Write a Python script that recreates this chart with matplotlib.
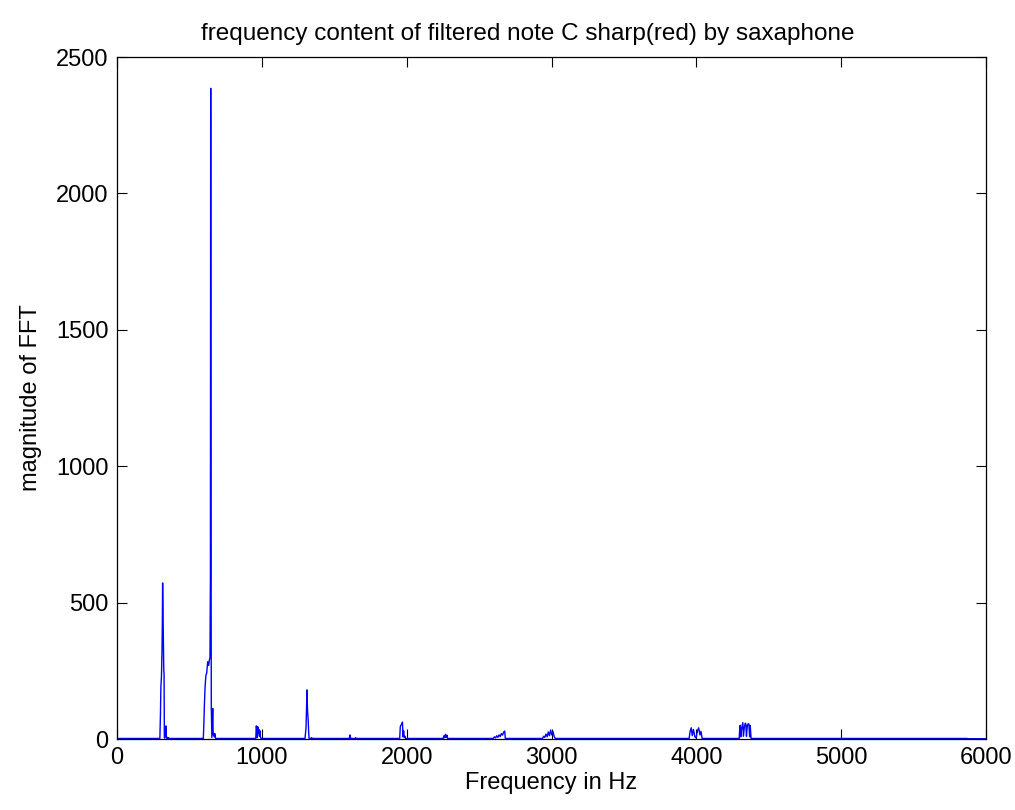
import numpy as np
import matplotlib.pyplot as plt

plt.rcParams["font.family"] = ["Liberation Sans", "DejaVu Sans"]

# spectrum of the filtered note, (Hz, |FFT|) breakpoints
freq_hz = [
    0, 296, 300, 303, 307, 311, 313, 315, 318, 321, 323, 325, 327, 330, 333, 336, 338, 341, 344, 350, 352, 355, 360,
    596, 600, 603, 608, 614, 619, 626, 633, 638, 642, 645, 647, 649, 651, 655, 658, 661, 664, 668, 672, 675, 680, 686,
    958, 962, 965, 968, 972, 976, 980, 983, 987, 990, 994,
    1298, 1305, 1312, 1314, 1316, 1320, 1323, 1326, 1340, 1344, 1348,
    1604, 1609, 1613, 1645, 1648, 1652,
    1952, 1956, 1960, 1966, 1971, 1975, 1979, 1983, 1988, 1992,
    2252, 2258, 2263, 2268, 2273, 2278, 2283,
    2598, 2606, 2614, 2622, 2630, 2638, 2646, 2654, 2662, 2670, 2677, 2681,
    2938, 2946, 2954, 2962, 2970, 2978, 2986, 2994, 3002, 3010, 3018, 3026,
    3950, 3958, 3965, 3972, 3980, 3990, 3998, 4008, 4016, 4025, 4032, 4040,
    4296, 4300, 4303, 4307, 4313, 4318, 4321, 4325, 4332, 4338, 4342, 4346, 4352, 4358, 4363, 4368, 4372, 4378,
    5870, 5875, 6000,
]
fft_mag = [
    2, 2, 90, 190, 230, 330, 420, 572, 440, 330, 250, 240, 6, 3, 45, 20, 48, 8, 2, 6, 2, 4, 2,
    2, 60, 118, 190, 235, 240, 283, 270, 290, 300, 600, 2385, 900, 120, 5, 60, 112, 15, 20, 8, 20, 3, 2,
    2, 48, 30, 5, 45, 22, 35, 10, 30, 8, 2,
    2, 40, 180, 130, 100, 70, 30, 3, 2, 5, 2,
    2, 15, 2, 2, 5, 2,
    2, 45, 50, 55, 62, 8, 30, 6, 10, 2,
    2, 12, 5, 17, 6, 14, 2,
    2, 8, 4, 12, 6, 15, 9, 20, 14, 26, 29, 2,
    2, 10, 6, 18, 8, 26, 12, 33, 15, 28, 10, 2,
    2, 30, 41, 12, 35, 8, 4, 30, 41, 15, 28, 2,
    2, 45, 50, 8, 40, 52, 60, 10, 45, 58, 55, 10, 48, 56, 55, 8, 50, 2,
    2, 1, 1,
]

fig = plt.figure(figsize=(10.15, 8.10), dpi=100)
ax = fig.add_axes([117 / 1015, 1 - 739 / 810, 869 / 1015, 682 / 810])

ax.plot(freq_hz, fft_mag, color=(0, 0, 1), lw=1.0)

ax.set_xlim(0, 6000)
ax.set_ylim(0, 2500)
ax.set_xticks(np.arange(0, 6001, 1000))
ax.set_yticks(np.arange(0, 2501, 500))
ax.tick_params(direction="in", length=7, width=0.8, labelsize=17, pad=6,
               top=True, right=True, colors="black")
for s in ax.spines.values():
    s.set_linewidth(0.9)

ax.set_title("frequency content of filtered note C sharp(red) by saxaphone",
             fontsize=17.5, pad=12, x=0.473)
ax.set_xlabel("Frequency in Hz", fontsize=17, labelpad=2)
ax.set_ylabel("magnitude of FFT", fontsize=17, labelpad=10)

fig.savefig("out.png", dpi=100)
